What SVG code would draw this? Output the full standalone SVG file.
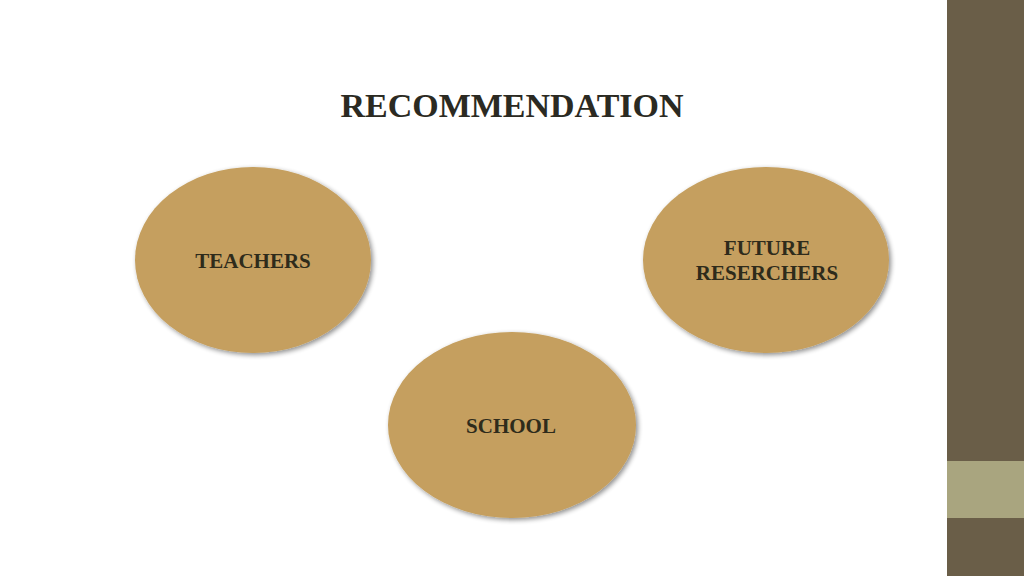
<svg xmlns="http://www.w3.org/2000/svg" width="1024" height="576" viewBox="0 0 1024 576">
<defs>
<filter id="sh" x="-10%" y="-10%" width="125%" height="125%">
<feGaussianBlur in="SourceAlpha" stdDeviation="2.5"/>
<feOffset dx="2" dy="2" result="b"/>
<feComponentTransfer><feFuncA type="linear" slope="0.45"/></feComponentTransfer>
<feMerge><feMergeNode/><feMergeNode in="SourceGraphic"/></feMerge>
</filter>
</defs>
<style>
.node{fill:#c59f5e;filter:url(#sh)}
.lbl{font-family:"Liberation Serif",serif;font-weight:bold;font-size:21px;fill:#2e2b1b;text-anchor:middle}
.title{font-family:"Liberation Serif",serif;font-weight:bold;font-size:34px;fill:#2b2a22;text-anchor:middle}
</style>
<rect width="1024" height="576" fill="#ffffff"/>
<rect x="947" y="0" width="77" height="576" fill="#6a5e48"/>
<rect x="947" y="461" width="77" height="57" fill="#a9a57f"/>
<text class="title" x="512" y="117">RECOMMENDATION</text>
<g id="connectors"/>
<g id="teachers">
<ellipse class="node" cx="253" cy="260" rx="118" ry="93"/>
<text class="lbl" x="253" y="268">TEACHERS</text>
</g>
<g id="future">
<ellipse class="node" cx="766" cy="260" rx="123" ry="93"/>
<text class="lbl" x="767" y="255">FUTURE</text>
<text class="lbl" x="767" y="280">RESERCHERS</text>
</g>
<g id="school">
<ellipse class="node" cx="512" cy="425" rx="124" ry="93"/>
<text class="lbl" x="511" y="433">SCHOOL</text>
</g>
</svg>
